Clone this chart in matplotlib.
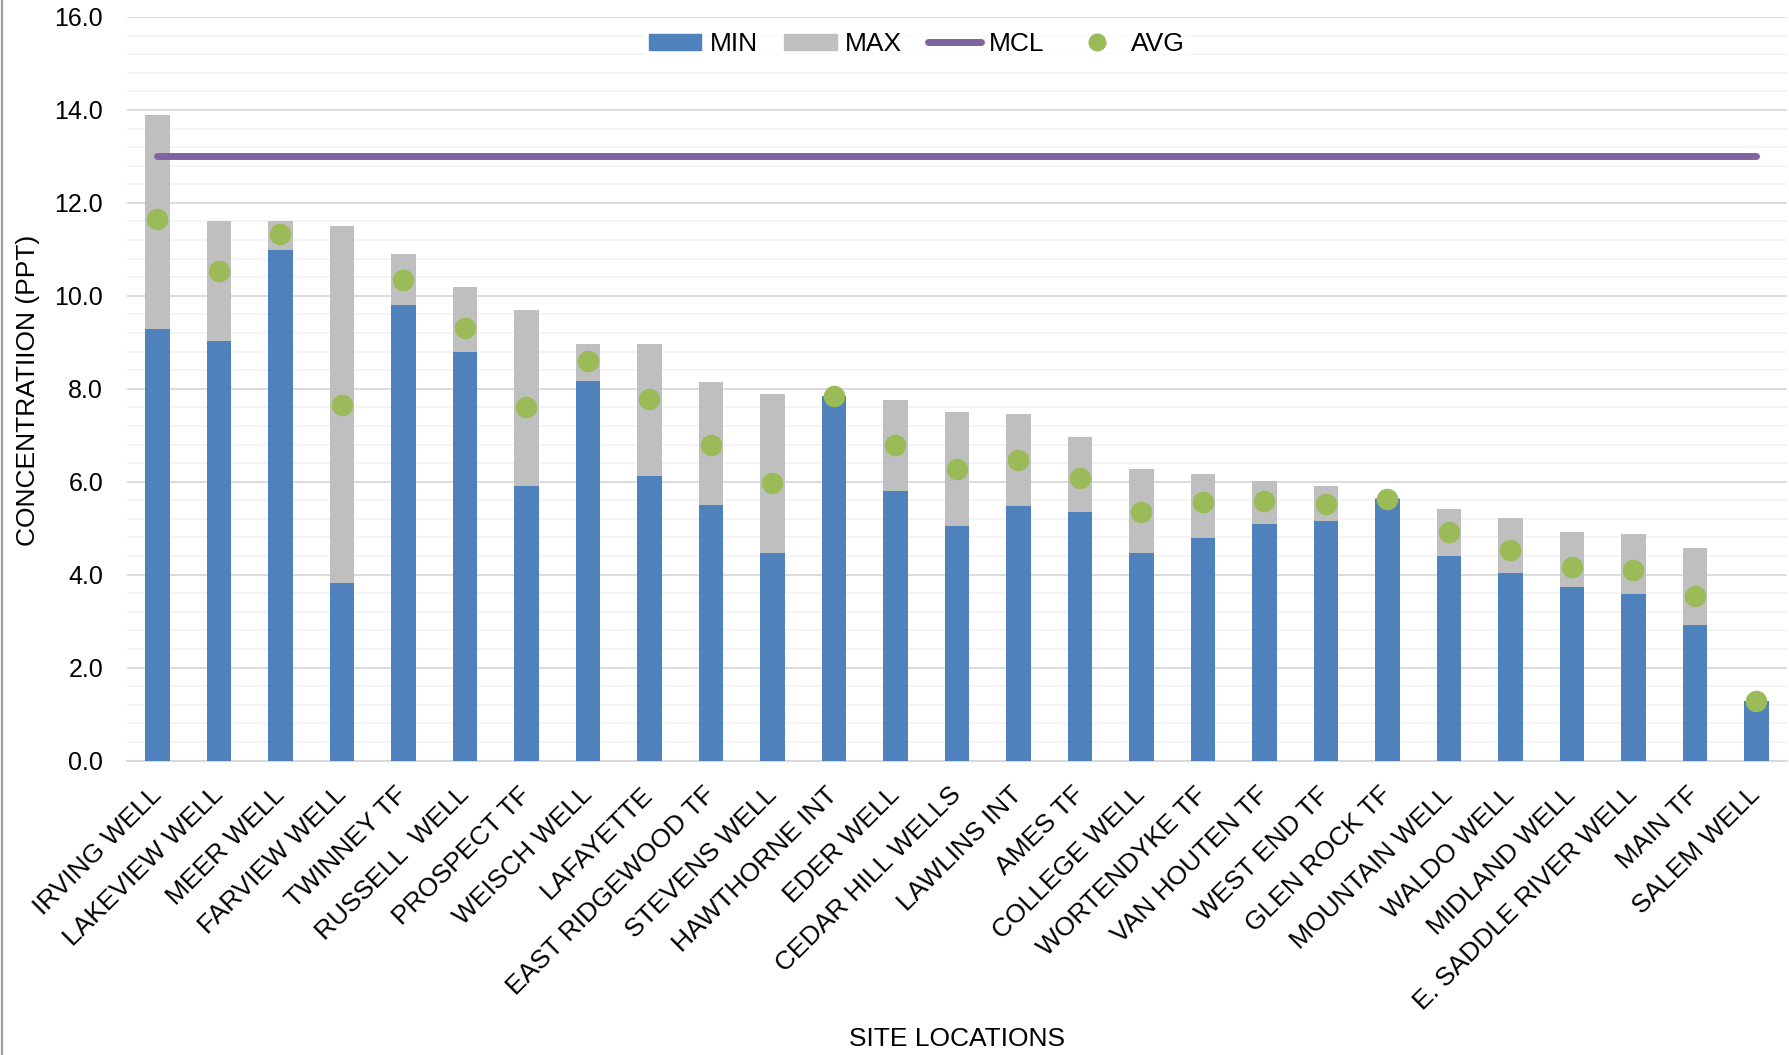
import matplotlib
matplotlib.use("Agg")
import matplotlib.pyplot as plt
from matplotlib.lines import Line2D
import numpy as np

plt.rcParams["font.family"] = ["Liberation Sans", "DejaVu Sans"]

sites = [
    "IRVING WELL", "LAKEVIEW WELL", "MEER WELL", "FARVIEW WELL", "TWINNEY TF",
    "RUSSELL  WELL", "PROSPECT TF", "WEISCH WELL", "LAFAYETTE", "EAST RIDGEWOOD TF",
    "STEVENS WELL", "HAWTHORNE INT", "EDER WELL", "CEDAR HILL WELLS", "LAWLINS INT",
    "AMES TF", "COLLEGE WELL", "WORTENDYKE TF", "VAN HOUTEN TF", "WEST END TF",
    "GLEN ROCK TF", "MOUNTAIN WELL", "WALDO WELL", "MIDLAND WELL",
    "E. SADDLE RIVER WELL", "MAIN TF", "SALEM WELL",
]
min_vals = [9.28, 9.03, 10.99, 3.83, 9.81, 8.79, 5.91, 8.17, 6.12, 5.49,
            4.47, 7.84, 5.79, 5.04, 5.48, 5.34, 4.46, 4.79, 5.10, 5.15,
            5.63, 4.40, 4.03, 3.74, 3.58, 2.92, 1.27]
max_vals = [13.90, 11.60, 11.60, 11.50, 10.90, 10.19, 9.69, 8.96, 8.97, 8.15,
            7.88, 7.85, 7.76, 7.49, 7.45, 6.97, 6.27, 6.17, 6.01, 5.91,
            5.64, 5.42, 5.22, 4.91, 4.88, 4.58, 1.27]
avg_vals = [11.66, 10.54, 11.33, 7.65, 10.35, 9.31, 7.61, 8.60, 7.78, 6.79,
            5.98, 7.84, 6.78, 6.27, 6.47, 6.09, 5.34, 5.56, 5.58, 5.53,
            5.63, 4.92, 4.52, 4.17, 4.10, 3.54, 1.27]
mcl_value = 13.0
y_ticks = [0.0, 2.0, 4.0, 6.0, 8.0, 10.0, 12.0, 14.0, 16.0]

C_MIN = "#4F81BD"
C_MAX = "#BFBFBF"
C_MCL = "#8064A2"
C_AVG = "#9BBB59"

W, H = 1790, 1055
fig = plt.figure(figsize=(W / 100, H / 100), dpi=100)
ax = fig.add_axes([126.75 / W, 1 - 760.5 / H, (1787.25 - 126.75) / W, (760.5 - 17) / H])

x = np.arange(len(sites))
bw = 0.40
ax.bar(x, max_vals, width=bw, color=C_MAX, zorder=2, label="MAX")
ax.bar(x, min_vals, width=bw, color=C_MIN, zorder=3, label="MIN")
ax.plot([x[0], x[-1]], [mcl_value, mcl_value], color=C_MCL, lw=5.0,
        solid_capstyle="round", zorder=4, label="MCL")
ax.plot(x, avg_vals, linestyle="none", marker="o", markersize=15.5,
        color=C_AVG, markeredgewidth=0, zorder=5, label="AVG")

ax.set_xlim(-0.5, len(sites) - 0.5)
ax.set_ylim(0, 16)
ax.set_yticks(y_ticks)
ax.set_yticklabels([f"{v:.1f}" for v in y_ticks])
ax.set_yticks(np.arange(0, 16.01, 0.4), minor=True)
ax.grid(axis="y", which="major", color="#D9D9D9", lw=1.3, zorder=0)
ax.grid(axis="y", which="minor", color="#F2F2F2", lw=1.2, zorder=0)
ax.set_axisbelow(True)
for s in ["top", "right", "left"]:
    ax.spines[s].set_visible(False)
ax.spines["bottom"].set_color("#D9D9D9")
ax.spines["bottom"].set_linewidth(1.5)

ax.tick_params(axis="y", which="both", length=0, pad=17, labelsize=18)
ax.tick_params(axis="x", which="both", length=0, pad=22)
ax.set_xticks(x)
ax.set_xticklabels(sites, rotation=45, ha="right", va="center",
                   rotation_mode="anchor", fontsize=19)

fig.text(957 / W, 1 - 1039 / H, "SITE LOCATIONS", ha="center", va="center", fontsize=19)
fig.text(28 / W, 1 - 390 / H, "CONCENTRATIION (PPT)", ha="center", va="center",
         rotation=90, fontsize=19)

handles = [
    plt.Rectangle((0, 0), 1, 1, color=C_MIN),
    plt.Rectangle((0, 0), 1, 1, color=C_MAX),
    Line2D([], [], color=C_MCL, lw=5.0, solid_capstyle="round"),
    Line2D([], [], linestyle="none", marker="o", markersize=12, color=C_AVG),
]
leg = fig.legend(handles, ["MIN", "MAX", "MCL", "AVG"], loc="center",
                 bbox_to_anchor=(917 / W, 1 - 44 / H), ncol=4, fontsize=19,
                 frameon=True, handlelength=2.0, handleheight=0.55,
                 handletextpad=0.3, columnspacing=1.0, borderpad=0.2)
leg.get_frame().set_facecolor("white")
leg.get_frame().set_edgecolor("none")

fig.add_artist(Line2D([2.5 / W, 2.5 / W], [0, 1], color="#A0A0A0", lw=1.6))

fig.savefig("out.png", dpi=100, facecolor="white")
